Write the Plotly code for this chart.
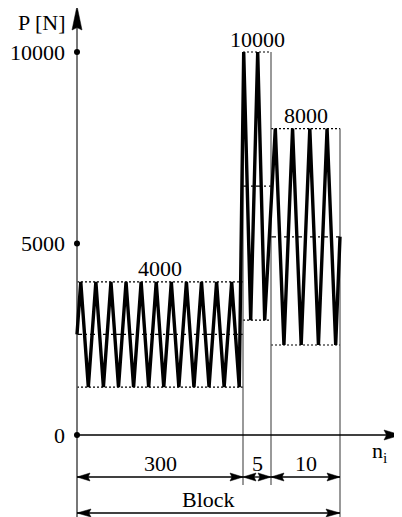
import plotly.graph_objects as go

# ---------------- data ----------------
block_counts = ["300", "5", "10"]          # number of cycles per block (labels)
p_max = [4000, 10000, 8000]                # peak load per block [N]
p_min = [1250, 3000, 2350]                 # valley load per block [N]
max_labels = ["4000", "10000", "8000"]
y_ticks = [0, 5000, 10000]
y_tick_labels = ["0", "5000", "10000"]
drawn_cycles = [11, 2, 4]                  # cycles sketched in each block
block_label = "Block"
y_title = "P [N]"
x_title = "n<sub>i</sub>"

# ---------------- layout geometry of the schematic ----------------
W, H = 402, 517                            # browser window
BODY = 8                                   # default page margin around the plot div
X0PX, Y0PX = 77, 435                       # window pixel position of the origin
PX_PER_N = 383 / 10000                     # vertical scale
block_widths = [166, 28, 69]               # drawn width of each block (px units)
phases = [0.25, 0.05, 0.25]                # phase of first peak inside each block
FONT = dict(family="Liberation Serif", size=22, color="black")


def dx(px):
    return px - X0PX


def dy(py):
    return (Y0PX - py) / PX_PER_N


def ppx(x):
    return x + X0PX


edges = [0]
for w in block_widths:
    edges.append(edges[-1] + w)
p_mean = [(a + b) / 2 for a, b in zip(p_max, p_min)]

# waveform turning points
xs, ys = [edges[0]], [p_mean[0]]
for i in range(len(p_max)):
    T = block_widths[i] / drawn_cycles[i]
    for k in range(drawn_cycles[i]):
        xs += [edges[i] + (k + phases[i]) * T, edges[i] + (k + phases[i] + 0.5) * T]
        ys += [p_max[i], p_min[i]]
xs.append(edges[-1])
ys.append(p_mean[-1])

fig = go.Figure()
fig.add_trace(go.Scatter(x=xs, y=ys, mode="lines",
                         line=dict(color="black", width=3.4),
                         hoverinfo="skip", showlegend=False))
fig.add_trace(go.Scatter(x=[0] * len(y_ticks), y=y_ticks, mode="markers",
                         marker=dict(color="black", size=6),
                         hoverinfo="skip", showlegend=False))

shapes = []


def line(x0, y0, x1, y1, color="black", width=1, dash="solid"):
    shapes.append(dict(type="line", xref="x", yref="y", x0=x0, y0=y0, x1=x1, y1=y1,
                       line=dict(color=color, width=width, dash=dash), layer="below"))


def arrow_head(tx, ty, ux, uy, L, w, notch=0.85):
    # tip in window pixels, (ux,uy) unit vector pointing from tip towards the tail
    bx, by = tx + ux * L, ty + uy * L
    nx, ny = -uy, ux
    mx, my = tx + ux * L * notch, ty + uy * L * notch
    pts = [(tx, ty), (bx + nx * w, by + ny * w), (mx, my), (bx - nx * w, by - ny * w)]
    path = "M " + " L ".join(f"{dx(x):.2f},{dy(y):.2f}" for x, y in pts) + " Z"
    shapes.append(dict(type="path", xref="x", yref="y", path=path,
                       fillcolor="black", line=dict(color="black", width=0.5), layer="above"))


# max / min / mean guide lines per block
for i in range(len(p_max)):
    line(edges[i], p_max[i], edges[i + 1], p_max[i], dash="2px,2px", width=1.2)
    line(edges[i], p_min[i], edges[i + 1], p_min[i], dash="2px,2px", width=1.2)
    line(edges[i], p_mean[i], edges[i + 1], p_mean[i], dash="5px,3px,2px,3px", width=1.2)

# vertical block boundaries
GRAY = "#555555"
line(edges[1], max(p_max[0], p_max[1]), edges[1], dy(485), color=GRAY, width=1.2)
line(edges[2], max(p_max[1], p_max[2]), edges[2], dy(485), color=GRAY, width=1.2)
line(edges[3], p_max[2], edges[3], dy(H), color=GRAY, width=1.2)

# y axis with arrow
line(0, dy(H), 0, dy(26), color=GRAY, width=1.6)
arrow_head(X0PX, 6, 0, 1, 24, 5, notch=0.9)
# x axis with arrow
line(0, 0, dx(390), 0, color="black", width=1.6)
arrow_head(401, Y0PX, -1, 0, 17, 5, notch=0.85)

# dimension lines
DIM_Y, BLK_Y = 477, 513
for i in range(len(block_widths)):
    a, b = ppx(edges[i]), ppx(edges[i + 1])
    line(edges[i], dy(DIM_Y), edges[i + 1], dy(DIM_Y), width=1.3)
    arrow_head(a, DIM_Y, 1, 0, 13, 4)
    arrow_head(b, DIM_Y, -1, 0, 13, 4)
line(edges[0], dy(BLK_Y), edges[-1], dy(BLK_Y), width=1.3)
arrow_head(ppx(edges[0]), BLK_Y, 1, 0, 14, 4)
arrow_head(ppx(edges[-1]), BLK_Y, -1, 0, 14, 4)

annotations = []


def text(t, x, y, xanchor="center", yanchor="middle", xshift=0, yshift=0):
    annotations.append(dict(text=t, x=x, y=y, xref="x", yref="y", showarrow=False,
                            xanchor=xanchor, yanchor=yanchor, xshift=xshift, yshift=yshift,
                            font=dict(FONT)))


for v, lab in zip(y_ticks, y_tick_labels):
    text(lab, 0, v, xanchor="right", xshift=-10)
text(y_title, dx(67), dy(22), xanchor="right")
text(x_title, dx(379), dy(452))
for i in range(len(p_max)):
    cx = (edges[i] + edges[i + 1]) / 2
    text(max_labels[i], cx, p_max[i], yshift=13)
    text(block_counts[i], cx, dy(463))
text(block_label, (edges[0] + edges[-1]) / 2, dy(499))

fig.update_layout(
    width=W - BODY, height=H - BODY, autosize=False,
    margin=dict(l=0, r=0, t=0, b=0, pad=0),
    paper_bgcolor="white", plot_bgcolor="white",
    font=FONT,
    xaxis=dict(range=[dx(BODY), dx(W)], visible=False, fixedrange=True),
    yaxis=dict(range=[dy(H), dy(BODY)], visible=False, fixedrange=True),
    shapes=shapes, annotations=annotations, showlegend=False,
)

fig.write_html("out.html", config={"displayModeBar": False})
